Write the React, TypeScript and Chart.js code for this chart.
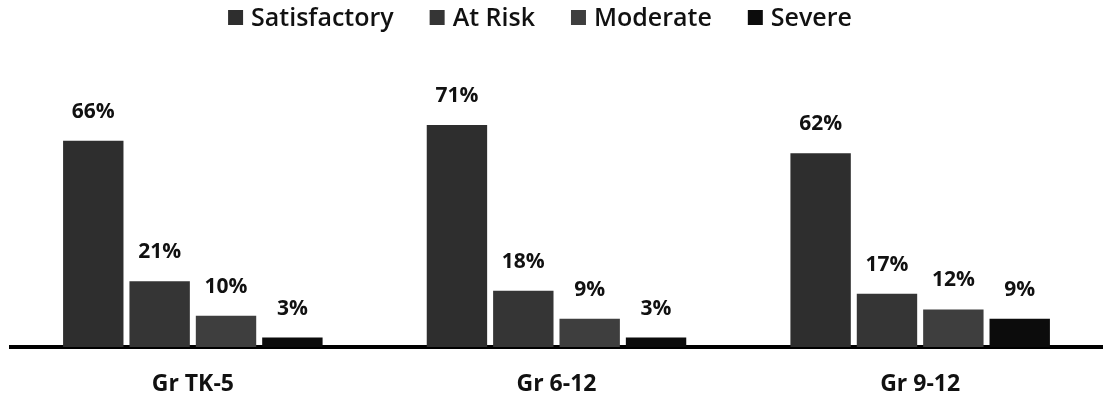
import React, { useEffect, useRef } from "react";
import { Chart, registerables } from "chart.js";

Chart.register(...registerables);

const categories = ["Gr TK-5", "Gr 6-12", "Gr 9-12"];
const seriesNames = ["Satisfactory", "At Risk", "Moderate", "Severe"];
const satisfactory = [66, 71, 62];
const atRisk = [21, 18, 17];
const moderate = [10, 9, 12];
const severe = [3, 3, 9];
const seriesColors = ["#2e2e2e", "#353535", "#3e3e3e", "#0c0c0c"];

const FONT = "'Open Sans', sans-serif";

const labelPlugin = {
  id: "barLabels",
  afterDatasetsDraw(chart: any) {
    const ctx = chart.ctx;
    ctx.save();
    ctx.font = `bold 21px ${FONT}`;
    ctx.fillStyle = "#111";
    ctx.textAlign = "center";
    ctx.textBaseline = "alphabetic";
    chart.data.datasets.forEach((ds: any, i: number) => {
      const meta = chart.getDatasetMeta(i);
      meta.data.forEach((bar: any, j: number) => {
        ctx.fillText(ds.data[j] + "%", bar.x, bar.y - 23);
      });
    });
    ctx.restore();
  },
};

const legendPlugin = {
  id: "customLegend",
  afterDraw(chart: any) {
    const ctx = chart.ctx;
    ctx.save();
    ctx.font = `600 25px ${FONT}`;
    ctx.textBaseline = "alphabetic";
    ctx.textAlign = "left";
    const box = 15;
    const boxGap = 8;
    const itemGap = 36;
    const items = chart.data.datasets.map((ds: any) => ({
      label: ds.label,
      color: ds.backgroundColor,
      w: ctx.measureText(ds.label).width,
    }));
    const total = items.reduce((s: number, it: any) => s + box + boxGap + it.w, 0) + itemGap * (items.length - 1);
    let x = 540 - total / 2;
    items.forEach((it: any) => {
      ctx.fillStyle = it.color;
      ctx.fillRect(x, 10, box, box);
      ctx.fillStyle = "#111";
      ctx.fillText(it.label, x + box + boxGap, 26);
      x += box + boxGap + it.w + itemGap;
    });
    ctx.restore();
  },
};

export default function App() {
  const ref = useRef<HTMLCanvasElement>(null);
  useEffect(() => {
    document.body.style.margin = "0";
    const values = [satisfactory, atRisk, moderate, severe];
    const chart = new Chart(ref.current!, {
      type: "bar",
      data: {
        labels: categories,
        datasets: seriesNames.map((name, i) => ({
          label: name,
          data: values[i],
          backgroundColor: seriesColors[i],
          categoryPercentage: 0.73,
          barPercentage: 0.91,
        })),
      },
      options: {
        animation: false,
        responsive: false,
        layout: { padding: { left: 11, right: 7, top: 50, bottom: 0 } },
        plugins: {
          legend: { display: false },
          tooltip: { enabled: false },
        },
        scales: {
          x: {
            grid: { display: false, drawTicks: false },
            border: { color: "#000", width: 4 },
            ticks: {
              font: { family: FONT, size: 23, weight: "bold" },
              color: "#111",
              padding: 24,
            },
            afterFit(scale: any) {
              scale.height = 58;
            },
          },
          y: {
            display: false,
            min: 0,
            max: 95,
          },
        },
      },
      plugins: [labelPlugin, legendPlugin],
    });
    return () => chart.destroy();
  }, []);
  return <canvas ref={ref} width={1109} height={405} style={{ display: "block" }} />;
}
